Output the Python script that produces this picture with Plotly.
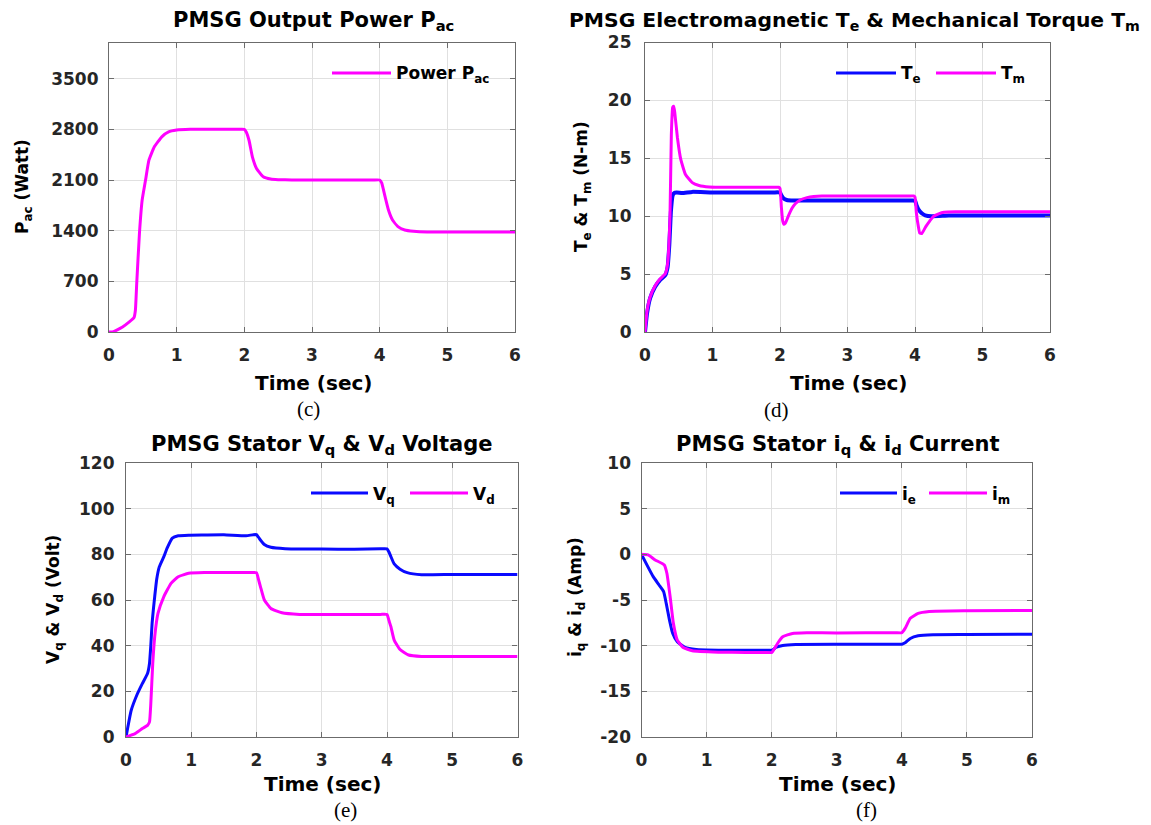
import plotly.graph_objects as go

# ---------------- data ----------------
t_pac = [0, 0.05, 0.1, 0.2, 0.3, 0.37, 0.39, 0.41, 0.45, 0.49, 0.54, 0.59, 0.67, 0.78, 0.88, 1.0, 1.2,
         1.6, 1.9, 2.0, 2.03, 2.07, 2.12, 2.18, 2.28, 2.39, 2.5, 2.7, 3.5, 3.9, 4.0, 4.03, 4.08, 4.13, 4.19,
         4.27, 4.37, 4.5, 4.7, 6.0]
p_ac = [0, 0, 20, 70, 140, 200, 300, 675, 1364, 1823, 2099, 2374, 2558, 2696, 2765, 2790, 2800,
        2800, 2800, 2800, 2760, 2646, 2417, 2260, 2144, 2113, 2105, 2100, 2100, 2100, 2100, 2060, 1869, 1686, 1548,
        1456, 1410, 1392, 1382, 1380]

t_te = [0, 0.03, 0.075, 0.15, 0.225, 0.3, 0.335, 0.36, 0.385, 0.41, 0.43, 0.47, 0.55, 0.7, 1.0, 1.5,
        1.9, 2.0, 2.02, 2.05, 2.1, 2.2, 2.5, 3.0, 3.9, 4.0, 4.02, 4.05, 4.1, 4.15, 4.25, 4.5, 5.0, 6.0]
t_e = [0, 1.6, 2.9, 3.9, 4.5, 4.9, 5.6, 7.5, 10.5, 11.8, 12.0, 12.05, 12.0, 12.1, 12.05, 12.05,
       12.05, 12.05, 11.8, 11.55, 11.4, 11.35, 11.35, 11.35, 11.35, 11.35, 11.0, 10.6, 10.25, 10.08, 10.0, 10.05,
       10.05, 10.05]

t_tm = [0, 0.03, 0.075, 0.15, 0.225, 0.3, 0.335, 0.37, 0.39, 0.41, 0.425, 0.44, 0.48, 0.53, 0.6, 0.7,
        0.8, 0.95, 1.1, 1.5, 1.9, 1.98, 2.0, 2.02, 2.04, 2.06, 2.08, 2.12, 2.18, 2.23, 2.3, 2.4, 2.5, 2.62,
        2.8, 3.5, 3.9, 3.98, 4.0, 4.02, 4.05, 4.07, 4.1, 4.16, 4.22, 4.27, 4.35, 4.43, 4.6, 6.0]
t_m = [0, 1.8, 3.0, 4.0, 4.6, 5.03, 5.9, 10.0, 17.0, 19.4, 19.5, 19.0, 16.8, 14.9, 13.6, 12.9,
       12.65, 12.52, 12.5, 12.5, 12.5, 12.5, 12.4, 10.8, 9.6, 9.3, 9.4, 9.97, 10.7, 11.1, 11.4, 11.6, 11.7,
       11.75, 11.75, 11.75, 11.75, 11.75, 11.65, 10.3, 9.1, 8.55, 8.5, 9.1, 9.6, 9.97, 10.2, 10.34, 10.38, 10.38]

t_vq = [0, 0.08, 0.165, 0.25, 0.33, 0.36, 0.38, 0.40, 0.42, 0.44, 0.47, 0.51, 0.58, 0.63, 0.71, 0.8,
        0.96, 1.2, 1.5, 1.84, 1.95, 2.0, 2.03, 2.06, 2.12, 2.22, 2.44, 3.0, 3.5, 3.9, 4.0, 4.03, 4.06, 4.11,
        4.2, 4.31, 4.53, 5.0, 6.0]
v_q = [0, 11.7, 18.3, 23.4, 27.8, 32.2, 40, 49.8, 56, 61.5, 69, 74.5, 79, 82.7, 87.1, 88.1,
       88.4, 88.5, 88.6, 88.1, 88.6, 88.6, 87.5, 86.3, 84.3, 83.1, 82.5, 82.3, 82.2, 82.4, 82.4, 81, 79, 75.8,
       73.5, 72, 71.1, 71.2, 71.2]

t_vd = [0, 0.14, 0.25, 0.33, 0.36, 0.38, 0.41, 0.44, 0.49, 0.58, 0.69, 0.8, 0.96, 1.2, 1.6, 1.9, 2.0,
        2.03, 2.06, 2.12, 2.22, 2.39, 2.66, 3.0, 3.5, 3.9, 4.0, 4.03, 4.06, 4.11, 4.2, 4.33, 4.53, 5.0, 6.0]
v_d = [0, 1.5, 3.7, 5.1, 6.6, 14.6, 32.2, 43.9, 54.1, 61.5, 67.3, 70.2, 71.7, 72.0, 72.0, 72.0, 72.0,
       69, 65.9, 60, 56.3, 54.4, 53.7, 53.6, 53.7, 53.7, 53.7, 51, 48.3, 42.4, 38.3, 35.9, 35.3, 35.3, 35.3]

t_iq = [0, 0.097, 0.18, 0.27, 0.34, 0.38, 0.43, 0.48, 0.55, 0.67, 0.84, 1.18, 1.6, 1.9, 2.0, 2.03,
        2.06, 2.17, 2.37, 3.0, 3.9, 4.0, 4.05, 4.13, 4.25, 4.48, 5.0, 6.0]
i_q = [0, -1.34, -2.44, -3.36, -4.09, -5.37, -7.2, -8.66, -9.58, -10.2, -10.42, -10.49, -10.5, -10.5,
       -10.5, -10.4, -10.2, -9.98, -9.87, -9.85, -9.85, -9.85, -9.69, -9.21, -8.92, -8.8, -8.78, -8.75]

t_id = [0, 0.1, 0.21, 0.35, 0.39, 0.44, 0.49, 0.55, 0.64, 0.78, 1.18, 1.6, 1.9, 2.0, 2.02, 2.09,
        2.17, 2.32, 2.54, 3.0, 3.9, 4.0, 4.05, 4.13, 4.25, 4.42, 5.0, 6.0]
i_d = [0, -0.06, -0.61, -1.16, -2.07, -4.64, -7.56, -9.39, -10.2, -10.56, -10.71, -10.75, -10.75,
       -10.75, -10.6, -9.76, -9.03, -8.66, -8.59, -8.6, -8.58, -8.58, -8.11, -7.01, -6.47, -6.25, -6.18, -6.15]

x_ticks = [0, 1, 2, 3, 4, 5, 6]
pac_ticks = [0, 700, 1400, 2100, 2800, 3500]
torque_ticks = [0, 5, 10, 15, 20, 25]
volt_ticks = [0, 20, 40, 60, 80, 100, 120]
curr_ticks = [-20, -15, -10, -5, 0, 5, 10]
curr_ticktext = ["-20", "-15", "-10", "-5", "0", "5", "10"]

# ---------------- layout helpers ----------------
# The page body has an 8px margin, so the figure is sized to end at the window edge
# and every page-pixel position is converted with that offset.
OFF = 8
W, H = 1151 - OFF, 825 - OFF
MAG = "#ff00ff"
BLUE = "#0a0aff"
FONT = "DejaVu Sans"
SMOOTH = 0.4


def fx(px):
    return (px - OFF) / W


def fy(py):
    return 1 - (py - OFF) / H


fig = go.Figure()

line_w = 3
fig.add_trace(go.Scatter(x=t_pac, y=p_ac, mode="lines", name="Power P<sub>ac</sub>",
                         line=dict(color=MAG, width=line_w, shape="spline", smoothing=SMOOTH),
                         xaxis="x", yaxis="y", showlegend=False))
fig.add_trace(go.Scatter(x=t_te, y=t_e, mode="lines", name="T<sub>e</sub>",
                         line=dict(color=BLUE, width=4, shape="spline", smoothing=SMOOTH),
                         xaxis="x2", yaxis="y2", showlegend=False))
fig.add_trace(go.Scatter(x=t_tm, y=t_m, mode="lines", name="T<sub>m</sub>",
                         line=dict(color=MAG, width=line_w, shape="spline", smoothing=SMOOTH),
                         xaxis="x2", yaxis="y2", showlegend=False))
fig.add_trace(go.Scatter(x=t_vq, y=v_q, mode="lines", name="V<sub>q</sub>",
                         line=dict(color=BLUE, width=line_w, shape="spline", smoothing=SMOOTH),
                         xaxis="x3", yaxis="y3", showlegend=False))
fig.add_trace(go.Scatter(x=t_vd, y=v_d, mode="lines", name="V<sub>d</sub>",
                         line=dict(color=MAG, width=line_w, shape="spline", smoothing=SMOOTH),
                         xaxis="x3", yaxis="y3", showlegend=False))
fig.add_trace(go.Scatter(x=t_iq, y=i_q, mode="lines", name="i<sub>e</sub>",
                         line=dict(color=BLUE, width=line_w, shape="spline", smoothing=SMOOTH),
                         xaxis="x4", yaxis="y4", showlegend=False))
fig.add_trace(go.Scatter(x=t_id, y=i_d, mode="lines", name="i<sub>m</sub>",
                         line=dict(color=MAG, width=line_w, shape="spline", smoothing=SMOOTH),
                         xaxis="x4", yaxis="y4", showlegend=False))

tickfont = dict(family=FONT, size=17, color="#262626", weight="bold")
common = dict(showline=True, linecolor="#6b6b6b", linewidth=1.2, mirror="ticks",
              ticks="inside", ticklen=5, tickcolor="#6b6b6b", tickwidth=1,
              showgrid=True, gridcolor="#e0e0e0", gridwidth=1, zeroline=False,
              tickfont=tickfont, fixedrange=True, automargin=False)

panels = {
    # name: (left, right, top, bottom) in page px
    "c": (109, 515, 42.5, 332),
    "d": (645, 1050, 42.5, 332),
    "e": (126, 517.5, 463, 737),
    "f": (641.5, 1032, 463, 737),
}

layout = dict(width=W, height=H, margin=dict(l=0, r=0, t=0, b=0, pad=0, autoexpand=False),
              paper_bgcolor="white", plot_bgcolor="white", showlegend=False)

axis_ids = [("", "c", pac_ticks, None, [0, 4000], 6),
            ("2", "d", torque_ticks, None, [0, 25], 9),
            ("3", "e", volt_ticks, None, [0, 120], 7),
            ("4", "f", curr_ticks, curr_ticktext, [-20, 10], 6)]
for aid, pname, yt, ytt, yr, ystand in axis_ids:
    l, r, t, b = panels[pname]
    layout["xaxis" + aid] = dict(domain=[fx(l), fx(r)], anchor="y" + aid, range=[0, 6],
                                 tickvals=x_ticks, ticklabelstandoff=7, **common)
    ydict = dict(domain=[fy(b), fy(t)], anchor="x" + aid, range=yr, tickvals=yt,
                 ticklabelstandoff=ystand, **common)
    if ytt is not None:
        ydict["ticktext"] = ytt
    layout["yaxis" + aid] = ydict

fig.update_layout(**layout)

annotations = []
shapes = []


def txt(text, x, y, size, angle=0, xanchor="center", yanchor="middle", family=FONT, weight="bold",
        color="black"):
    annotations.append(dict(text=text, x=fx(x), y=fy(y), xref="paper", yref="paper",
                            showarrow=False, xanchor=xanchor, yanchor=yanchor, textangle=angle,
                            font=dict(family=family, size=size, color=color, weight=weight)))


# subplot titles
txt("PMSG Output Power P<sub>ac</sub>", 313, 21, 21)
txt("PMSG Electromagnetic T<sub>e</sub> &amp; Mechanical Torque T<sub>m</sub>", 854, 21, 20.3)
txt("PMSG Stator V<sub>q</sub> &amp; V<sub>d</sub> Voltage", 321, 445, 21)
txt("PMSG Stator i<sub>q</sub> &amp; i<sub>d</sub> Current", 837, 445, 21)

# x axis titles
for xc, yc in [(313, 383), (848, 383), (322, 784), (837, 784)]:
    txt("Time (sec)", xc, yc, 20)

# y axis titles
txt("P<sub>ac</sub> (Watt)", 24, 187, 17, angle=-90)
txt("T<sub>e</sub> &amp; T<sub>m</sub> (N-m)", 583, 187, 17, angle=-90)
txt("V<sub>q</sub> &amp; V<sub>d</sub> (Volt)", 54, 600, 17, angle=-90)
txt("i<sub>q</sub> &amp; i<sub>d</sub> (Amp)", 576, 597, 17, angle=-90)

# captions
for lab, xc, yc in [("(c)", 308, 409), ("(d)", 776, 410), ("(e)", 345, 810), ("(f)", 866, 810)]:
    txt(lab, xc, yc, 21, family="Liberation Serif", weight="normal")

# legends (line sample + label)
legend_items = [
    (332, 391, 73, MAG, "Power P<sub>ac</sub>"),
    (836, 896, 73, BLUE, "T<sub>e</sub>"),
    (936, 996, 73, MAG, "T<sub>m</sub>"),
    (311, 368, 493, BLUE, "V<sub>q</sub>"),
    (410, 468, 493, MAG, "V<sub>d</sub>"),
    (840, 897, 493, BLUE, "i<sub>e</sub>"),
    (929, 987, 493, MAG, "i<sub>m</sub>"),
]
for x0, x1, yl, col, lab in legend_items:
    shapes.append(dict(type="line", xref="paper", yref="paper", x0=fx(x0), x1=fx(x1),
                       y0=fy(yl), y1=fy(yl), line=dict(color=col, width=3)))
    txt(lab, x1 + 3, yl + 2, 17, xanchor="left")

fig.update_layout(annotations=annotations, shapes=shapes)

fig.write_html("out.html", config=dict(displayModeBar=False))
